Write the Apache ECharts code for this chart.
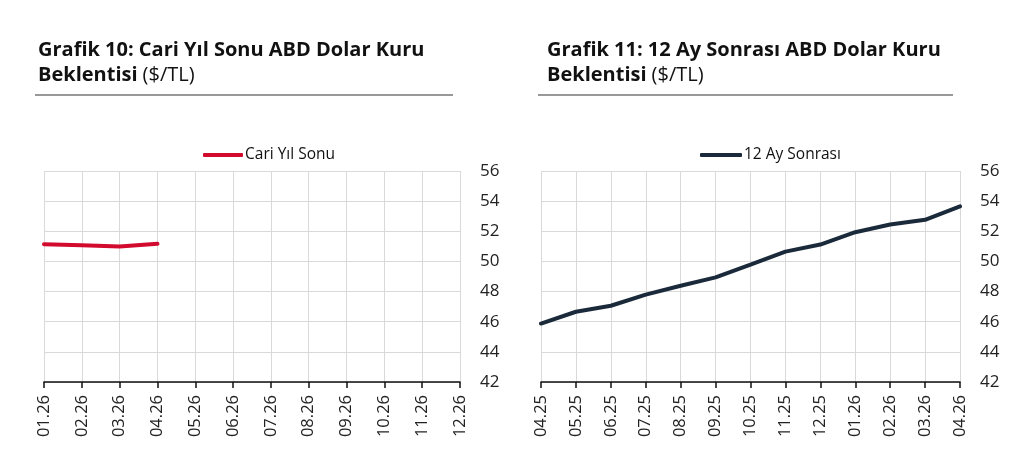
<!DOCTYPE html>
<html>
<head>
<meta charset="utf-8">
<script src="https://cdn.jsdelivr.net/npm/echarts@6/dist/echarts.min.js"></script>
<style>
  html, body { margin: 0; padding: 0; background: #fff; }
  #main { width: 1027px; height: 471px; }
</style>
</head>
<body>
<div id="main"></div>
<script>
// Grafik 10 - cari yil sonu beklentisi
const monthsCari = ['01.26', '02.26', '03.26', '04.26', '05.26', '06.26', '07.26', '08.26', '09.26', '10.26', '11.26', '12.26']
const cariYilSonu = [51.14, 51.07, 50.99, 51.17]

// Grafik 11 - 12 ay sonrasi beklentisi
const months12 = ['04.25', '05.25', '06.25', '07.25', '08.25', '09.25', '10.25', '11.25', '12.25', '01.26', '02.26', '03.26', '04.26']
const aySonrasi = [45.88, 46.66, 47.06, 47.8, 48.39, 48.94, 49.79, 50.65, 51.12, 51.94, 52.45, 52.76, 53.65]

const yMin = 42
const yMax = 56
const yStep = 2

const FONT = 'Open Sans'
const red = '#d20a2e'
const navy = '#1b2a3b'

const myChart = echarts.init(document.getElementById('main'))

function xAxisFor (data, gridIndex) {
  return {
    type: 'category',
    gridIndex: gridIndex,
    data: data,
    boundaryGap: false,
    axisLine: { lineStyle: { color: '#111', width: 1.5 } },
    axisTick: { show: true, length: 6, lineStyle: { color: '#111', width: 1.5 } },
    axisLabel: { rotate: 90, fontFamily: FONT, fontSize: 16.5, color: '#222', margin: 13 },
    splitLine: { show: true, lineStyle: { color: '#d9d9d9', width: 1 } }
  }
}

function yAxisFor (gridIndex) {
  return {
    type: 'value',
    gridIndex: gridIndex,
    position: 'right',
    min: yMin,
    max: yMax,
    interval: yStep,
    axisLine: { show: false },
    axisTick: { show: false },
    axisLabel: { fontFamily: FONT, fontSize: 17, color: '#222', margin: 20 },
    splitLine: { show: true, lineStyle: { color: '#d9d9d9', width: 1 } }
  }
}

function titleFor (num, text, left) {
  return {
    left: left,
    top: 33,
    text: '{b|Grafik ' + num + ': ' + text + '}\n{b|Beklentisi} {n|($/TL)}',
    textStyle: {
      rich: {
        b: { fontFamily: FONT, fontWeight: 'bold', fontSize: 20, color: '#111', lineHeight: 25 },
        n: { fontFamily: FONT, fontWeight: 'normal', fontSize: 20, color: '#111', lineHeight: 25 }
      }
    }
  }
}

const legendText = { fontFamily: FONT, fontSize: 15.5, color: '#111', padding: [0, 0, 0, -3] }

const option = {
  animation: false,
  backgroundColor: '#fff',
  title: [
    titleFor(10, 'Cari Yıl Sonu ABD Dolar Kuru', 33),
    titleFor(11, '12 Ay Sonrası ABD Dolar Kuru', 542)
  ],
  graphic: [
    { type: 'line', shape: { x1: 35, y1: 95, x2: 453, y2: 95 }, style: { stroke: '#333', lineWidth: 1 } },
    { type: 'line', shape: { x1: 538, y1: 95, x2: 953, y2: 95 }, style: { stroke: '#333', lineWidth: 1 } }
  ],
  legend: [
    {
      data: ['Cari Yıl Sonu'],
      left: 198,
      top: 142,
      icon: 'roundRect',
      itemWidth: 40,
      itemHeight: 4,
      textStyle: legendText
    },
    {
      data: ['12 Ay Sonrası'],
      left: 695,
      top: 142,
      icon: 'roundRect',
      itemWidth: 42,
      itemHeight: 4,
      textStyle: legendText
    }
  ],
  grid: [
    { left: 44, top: 171, width: 416, height: 211, containLabel: false },
    { left: 541, top: 171, width: 419, height: 211, containLabel: false }
  ],
  xAxis: [xAxisFor(monthsCari, 0), xAxisFor(months12, 1)],
  yAxis: [yAxisFor(0), yAxisFor(1)],
  series: [
    {
      name: 'Cari Yıl Sonu',
      type: 'line',
      xAxisIndex: 0,
      yAxisIndex: 0,
      data: cariYilSonu,
      showSymbol: false,
      lineStyle: { color: red, width: 4, cap: 'round' },
      itemStyle: { color: red }
    },
    {
      name: '12 Ay Sonrası',
      type: 'line',
      xAxisIndex: 1,
      yAxisIndex: 1,
      data: aySonrasi,
      showSymbol: false,
      lineStyle: { color: navy, width: 4, cap: 'round' },
      itemStyle: { color: navy }
    }
  ]
}

myChart.setOption(option)
</script>
</body>
</html>
